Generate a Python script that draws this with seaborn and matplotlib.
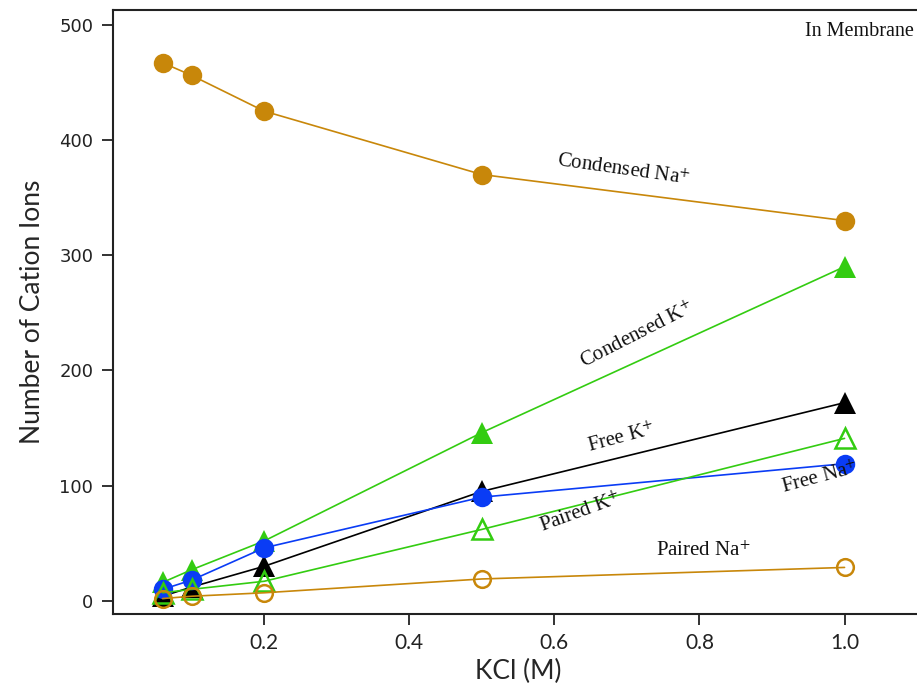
import matplotlib
matplotlib.use("Agg")
import matplotlib.pyplot as plt
import seaborn as sns
import pandas as pd

# KCl concentration (M)
kcl = [0.06, 0.1, 0.2, 0.5, 1.0]

# Ion counts in the membrane region
condensed_na = [467, 456, 425, 370, 330]
condensed_k = [16, 27, 52, 146, 290]
free_k = [4, 12, 30, 95, 172]
free_na = [10, 18, 46, 90, 119]
paired_k = [7, 10, 17, 62, 141]
paired_na = [2, 4, 7, 19, 29]

GOLD = "#C8870A"
GREEN = "#33CC11"
BLUE = "#0A3CF5"
BLACK = "#000000"

series = [
    ("Condensed Na", condensed_na, GOLD, "o", True),
    ("Condensed K", condensed_k, GREEN, "^", True),
    ("Free K", free_k, BLACK, "^", True),
    ("Free Na", free_na, BLUE, "o", True),
    ("Paired K", paired_k, GREEN, "^", False),
    ("Paired Na", paired_na, GOLD, "o", False),
]

sns.set_style("ticks")
plt.rcParams["mathtext.fontset"] = "stix"

fig = plt.figure(figsize=(9.17, 6.96), dpi=100)
ax = fig.add_axes([0.123, 0.118, 0.885, 0.868])

for name, vals, color, mk, filled in series:
    df = pd.DataFrame({"KCl": kcl, "n": vals})
    if filled:
        ms = 14 if mk == "o" else 16
    else:
        ms = 12 if mk == "o" else 14
    sns.lineplot(
        data=df, x="KCl", y="n", ax=ax, color=color, linewidth=1.2,
        marker=mk, markersize=ms,
        markerfacecolor=color if filled else "none",
        markeredgecolor=color, markeredgewidth=0 if filled else 1.8,
        zorder=3,
    )

ax.set_xlim(-0.0087, 1.11)
ax.set_ylim(-11.3, 513)
ax.set_xticks([0.2, 0.4, 0.6, 0.8, 1.0])
ax.set_xticklabels(["0.2", "0.4", "0.6", "0.8", "1.0"], fontfamily="Lato", fontsize=15)
ax.set_yticks([0, 100, 200, 300, 400, 500])
ax.set_yticklabels(["0", "100", "200", "300", "400", "500"], fontfamily="DejaVu Sans", fontsize=13)
ax.tick_params(direction="out", length=8, width=1.3, colors="#222222", pad=6)
ax.set_xlabel("KCl (M)", fontfamily="Lato", fontsize=19, labelpad=4)
ax.set_ylabel("Number of Cation Ions", fontfamily="Lato", fontsize=19, labelpad=10)

for side in ("left", "bottom", "top"):
    ax.spines[side].set_linewidth(1.5)
    ax.spines[side].set_color("#222222")
ax.spines["right"].set_visible(False)

lab = dict(fontfamily="Liberation Serif", fontsize=15, color="#111111",
           ha="center", va="center", rotation_mode="anchor")
ax.text(0.695, 373, r"Condensed Na$^{+}$", rotation=-8, **lab)
ax.text(0.714, 230, r"Condensed K$^{+}$", rotation=27, **lab)
ax.text(0.692, 141, r"Free K$^{+}$", rotation=15, **lab)
ax.text(0.966, 106, r"Free Na$^{+}$", rotation=15, **lab)
ax.text(0.636, 76, r"Paired K$^{+}$", rotation=20, **lab)
ax.text(0.805, 43, r"Paired Na$^{+}$", rotation=0, **lab)
ax.text(1.021, 494, "In Membrane", fontfamily="Liberation Serif", fontsize=14.5,
        color="#111111", ha="center", va="center")

fig.savefig("out.png", dpi=100)
